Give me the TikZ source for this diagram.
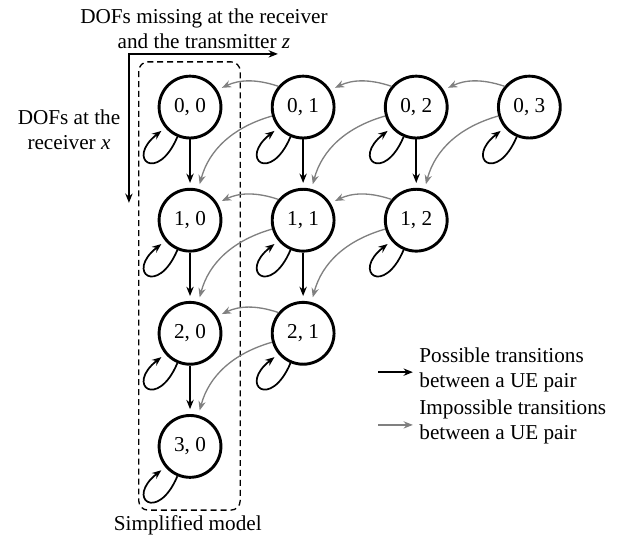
\documentclass[tikz,border=0pt]{standalone}
\usepackage{fontspec}
\setmainfont{Liberation Serif}
\usetikzlibrary{arrows.meta,positioning}

\begin{document}
\begin{tikzpicture}[node distance=3cm,>={Stealth[length=7pt,width=5.5pt]},font=\fontsize{16}{19}\selectfont]

	\tikzstyle{state}=[circle,draw=black,line width=2.2pt,minimum size=1.64cm,inner sep=0pt]
	\tikzstyle{poss}=[->,draw=black,line width=1.3pt,shorten >=1.3mm]
	\tikzstyle{imposs}=[->,draw=black!50,line width=1pt,shorten >=1.3mm]
	\tikzstyle{axis}=[<->,draw=black,line width=1.3pt]

	\useasboundingbox (0,0) rectangle (16.63,-14.22);

	% states (x, z)
	\node [state] (s00) at (5.04,-2.84) {0, 0};
	\node [state] (s01) [right of=s00] {0, 1};
	\node [state] (s02) [right of=s01] {0, 2};
	\node [state] (s03) [right of=s02] {0, 3};
	\node [state] (s10) [below of=s00] {1, 0};
	\node [state] (s11) [right of=s10] {1, 1};
	\node [state] (s12) [right of=s11] {1, 2};
	\node [state] (s20) [below of=s10] {2, 0};
	\node [state] (s21) [right of=s20] {2, 1};
	\node [state] (s30) [below of=s20] {3, 0};

	% axes
	\coordinate (corner) at (3.42,-1.43);
	\coordinate (zend) at (7.37,-1.43);
	\coordinate (xend) at (3.42,-5.38);
	\draw [axis] (xend) |- (zend);
	\node (zlabel) [align=center] at (5.41,-0.77) {DOFs missing at the receiver\\and the transmitter \textit{z}};
	\node (xlabel) [align=center] at (1.83,-3.45) {DOFs at the\\receiver \textit{x}};

	% simplified model
	\draw [dashed,dash pattern=on 4.5pt off 3pt,line width=1pt,rounded corners=7pt] (3.68,-1.64) rectangle (6.37,-13.53);
	\node (simple) at (4.98,-13.93) {Simplified model};

	% self loops
	\foreach \s in {s00,s01,s02,s03,s10,s11,s12,s20,s21,s30}
		\draw [poss] (\s.-113) .. controls +(-113:1.35) and +(-142:1.35) .. (\s.-140);

	% possible transitions
	\draw [poss] (s00) -- (s10);
	\draw [poss] (s10) -- (s20);
	\draw [poss] (s20) -- (s30);
	\draw [poss] (s01) -- (s11);
	\draw [poss] (s11) -- (s21);
	\draw [poss] (s02) -- (s12);

	% impossible transitions
	\draw [imposs] (s01.140) to [bend right=22] (s00.32);
	\draw [imposs] (s02.140) to [bend right=22] (s01.32);
	\draw [imposs] (s03.140) to [bend right=22] (s02.32);
	\draw [imposs] (s11.140) to [bend right=22] (s10.32);
	\draw [imposs] (s12.140) to [bend right=22] (s11.32);
	\draw [imposs] (s21.140) to [bend right=22] (s20.32);
	\draw [imposs] (s01.196) to [out=196,in=75] (s10.75);
	\draw [imposs] (s02.196) to [out=196,in=75] (s11.75);
	\draw [imposs] (s03.196) to [out=196,in=75] (s12.75);
	\draw [imposs] (s11.196) to [out=196,in=75] (s20.75);
	\draw [imposs] (s12.196) to [out=196,in=75] (s21.75);
	\draw [imposs] (s21.196) to [out=196,in=75] (s30.75);

	% legend
	\coordinate (pa) at (10.03,-9.87);
	\coordinate (pb) at (10.95,-9.87);
	\coordinate (ia) at (10.03,-11.27);
	\coordinate (ib) at (10.95,-11.27);
	\draw [poss,shorten >=0pt] (pa) -- (pb);
	\draw [imposs,shorten >=0pt] (ia) -- (ib);
	\node (ptext) [anchor=west,align=left] at (11.0,-9.8) {Possible transitions\\between a UE pair};
	\node (itext) [anchor=west,align=left] at (11.0,-11.2) {Impossible transitions\\between a UE pair};

\end{tikzpicture}
\end{document}
